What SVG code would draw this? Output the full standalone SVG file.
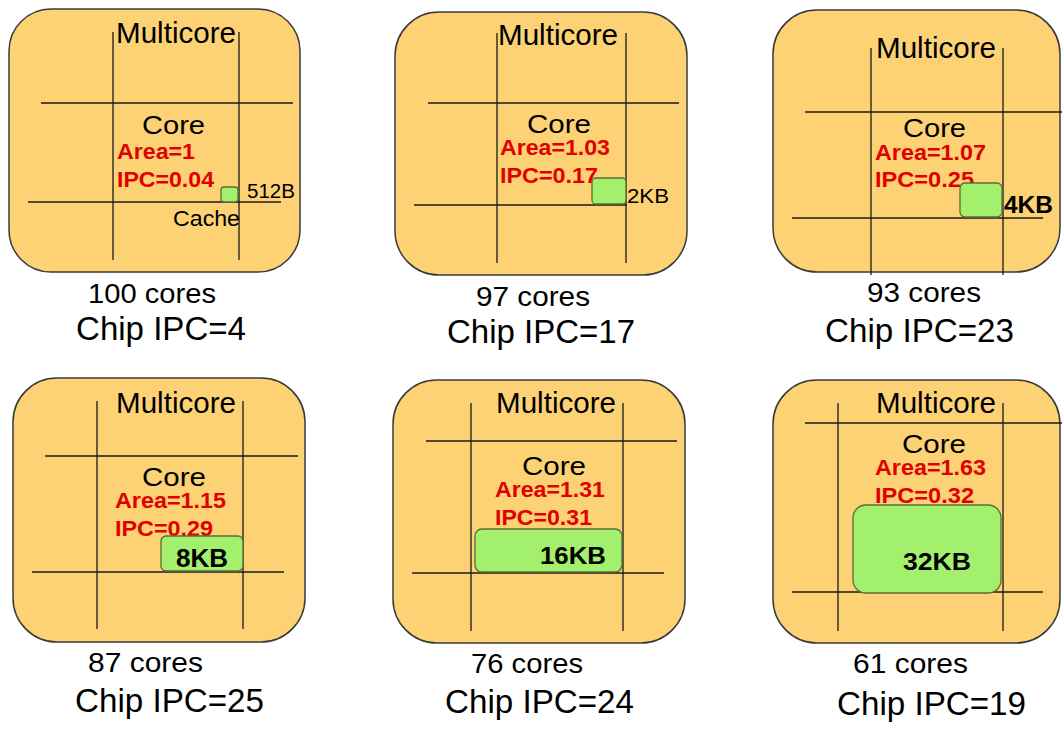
<svg xmlns="http://www.w3.org/2000/svg" width="1062" height="729" viewBox="0 0 1062 729">
<style>
.bg{fill:#ffffff}
.box{fill:#fcd274;stroke:#3a3a3a;stroke-width:1.5}
.grid{stroke:#1a1a1a;stroke-width:1.3;fill:none}
.cache{fill:#a2f06c;stroke:#5b6b3a;stroke-width:1.3}
text{font-family:"Liberation Sans",Arial,sans-serif;fill:#000}
.mc{font-size:29px}
.core{font-size:26px}
.red{font-size:22px;font-weight:bold;fill:#e00000}
.small{font-size:20px}
.kb{font-size:23px;font-weight:bold}
.cores{font-size:27px}
.chip{font-size:34px}
</style>
<rect class="bg" x="0" y="0" width="1062" height="729"/>

<g id="panel1">
<rect class="box" x="9" y="9" width="291" height="263" rx="42"/>
<path class="grid" d="M113 32V260M239 32V260M41 103H293M28 202H281"/>
<text class="mc" x="116" y="43" textLength="120" lengthAdjust="spacingAndGlyphs">Multicore</text>
<text class="core" x="142" y="134" textLength="63" lengthAdjust="spacingAndGlyphs">Core</text>
<text class="red" x="117" y="159" textLength="78" lengthAdjust="spacingAndGlyphs">Area=1</text>
<text class="red" x="117" y="187" textLength="97" lengthAdjust="spacingAndGlyphs">IPC=0.04</text>
<rect class="cache" x="221" y="187" width="17" height="15" rx="3"/>
<text class="small" x="247" y="198" textLength="48" lengthAdjust="spacingAndGlyphs">512B</text>
<text class="small" x="173" y="226" font-size="22" style="font-size:22px" textLength="67" lengthAdjust="spacingAndGlyphs">Cache</text>
<text class="cores" x="88" y="303" textLength="128" lengthAdjust="spacingAndGlyphs">100 cores</text>
<text class="chip" x="76" y="340" textLength="170" lengthAdjust="spacingAndGlyphs">Chip IPC=4</text>
</g>

<g id="panel2">
<rect class="box" x="395" y="12" width="292" height="263" rx="44"/>
<path class="grid" d="M497 33V263M626 33V263M428 103H679M414 205H627"/>
<text class="mc" x="498" y="45" textLength="120" lengthAdjust="spacingAndGlyphs">Multicore</text>
<text class="core" x="527" y="133" textLength="64" lengthAdjust="spacingAndGlyphs">Core</text>
<text class="red" x="500" y="155" textLength="110" lengthAdjust="spacingAndGlyphs">Area=1.03</text>
<text class="red" x="500" y="183" textLength="98" lengthAdjust="spacingAndGlyphs">IPC=0.17</text>
<rect class="cache" x="592" y="178" width="34" height="26" rx="4"/>
<text class="small" x="627" y="203" font-size="21" style="font-size:21px" textLength="42" lengthAdjust="spacingAndGlyphs">2KB</text>
<text class="cores" x="476" y="306" textLength="114" lengthAdjust="spacingAndGlyphs">97 cores</text>
<text class="chip" x="447" y="343" textLength="188" lengthAdjust="spacingAndGlyphs">Chip IPC=17</text>
</g>

<g id="panel3">
<rect class="box" x="773" y="10" width="287" height="262" rx="44"/>
<path class="grid" d="M871 48V275M1003 48V275M805 112H1062M792 218H1043"/>
<text class="mc" x="876" y="58" textLength="120" lengthAdjust="spacingAndGlyphs">Multicore</text>
<text class="core" x="903" y="137" textLength="63" lengthAdjust="spacingAndGlyphs">Core</text>
<text class="red" x="875" y="160" textLength="111" lengthAdjust="spacingAndGlyphs">Area=1.07</text>
<text class="red" x="875" y="187" textLength="99" lengthAdjust="spacingAndGlyphs">IPC=0.25</text>
<rect class="cache" x="960" y="183" width="42" height="34" rx="5"/>
<text class="kb" x="1004" y="213" textLength="49" lengthAdjust="spacingAndGlyphs">4KB</text>
<text class="cores" x="867" y="302" textLength="114" lengthAdjust="spacingAndGlyphs">93 cores</text>
<text class="chip" x="825" y="342" textLength="189" lengthAdjust="spacingAndGlyphs">Chip IPC=23</text>
</g>

<g id="panel4">
<rect class="box" x="13" y="378" width="292" height="264" rx="44"/>
<path class="grid" d="M97 401V629M243 401V629M45 456H298M32 572H284"/>
<text class="mc" x="116" y="413" textLength="120" lengthAdjust="spacingAndGlyphs">Multicore</text>
<text class="core" x="142" y="486" textLength="64" lengthAdjust="spacingAndGlyphs">Core</text>
<text class="red" x="115" y="508" textLength="111" lengthAdjust="spacingAndGlyphs">Area=1.15</text>
<text class="red" x="115" y="536" textLength="98" lengthAdjust="spacingAndGlyphs">IPC=0.29</text>
<rect class="cache" x="161" y="536" width="82" height="35" rx="5"/>
<text class="kb" x="176" y="567" font-size="25" style="font-size:25px" textLength="52" lengthAdjust="spacingAndGlyphs">8KB</text>
<text class="cores" x="88" y="672" textLength="115" lengthAdjust="spacingAndGlyphs">87 cores</text>
<text class="chip" x="75" y="712" textLength="189" lengthAdjust="spacingAndGlyphs">Chip IPC=25</text>
</g>

<g id="panel5">
<rect class="box" x="393" y="380" width="292" height="263" rx="44"/>
<path class="grid" d="M471 403V631M623 403V631M426 441H677M412 573H664"/>
<text class="mc" x="496" y="413" textLength="120" lengthAdjust="spacingAndGlyphs">Multicore</text>
<text class="core" x="522" y="475" textLength="64" lengthAdjust="spacingAndGlyphs">Core</text>
<text class="red" x="495" y="497" textLength="110" lengthAdjust="spacingAndGlyphs">Area=1.31</text>
<text class="red" x="495" y="525" textLength="97" lengthAdjust="spacingAndGlyphs">IPC=0.31</text>
<rect class="cache" x="475" y="529" width="147" height="43" rx="7"/>
<text class="kb" x="540" y="564" font-size="24" style="font-size:24px" textLength="66" lengthAdjust="spacingAndGlyphs">16KB</text>
<text class="cores" x="471" y="673" textLength="112" lengthAdjust="spacingAndGlyphs">76 cores</text>
<text class="chip" x="445" y="713" textLength="189" lengthAdjust="spacingAndGlyphs">Chip IPC=24</text>
</g>

<g id="panel6">
<rect class="box" x="773" y="380" width="287" height="263" rx="44"/>
<path class="grid" d="M838 403V631M1003 403V631M805 423H1062M792 592H1043"/>
<text class="mc" x="876" y="413" textLength="120" lengthAdjust="spacingAndGlyphs">Multicore</text>
<text class="core" x="902" y="453" textLength="64" lengthAdjust="spacingAndGlyphs">Core</text>
<text class="red" x="875" y="475" textLength="111" lengthAdjust="spacingAndGlyphs">Area=1.63</text>
<text class="red" x="875" y="503" textLength="99" lengthAdjust="spacingAndGlyphs">IPC=0.32</text>
<rect class="cache" x="853" y="505" width="148" height="88" rx="13"/>
<text class="kb" x="903" y="570" font-size="24" style="font-size:24px" textLength="68" lengthAdjust="spacingAndGlyphs">32KB</text>
<text class="cores" x="853" y="673" textLength="115" lengthAdjust="spacingAndGlyphs">61 cores</text>
<text class="chip" x="837" y="715" textLength="189" lengthAdjust="spacingAndGlyphs">Chip IPC=19</text>
</g>
</svg>
